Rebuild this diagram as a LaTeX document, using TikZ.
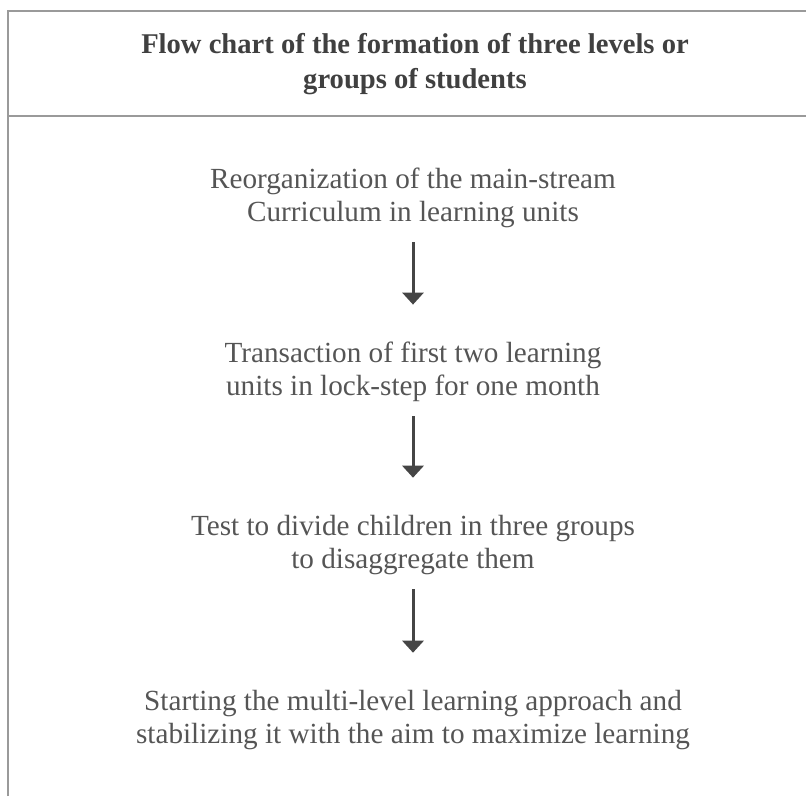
\documentclass[tikz,border=0pt]{standalone}
\usepackage{fontspec}
\setmainfont{Liberation Serif}
\usetikzlibrary{arrows.meta, positioning}
\definecolor{txtgray}{HTML}{555555}
\definecolor{ttlgray}{HTML}{404040}
\definecolor{rulegray}{HTML}{9A9A9A}
\definecolor{arrgray}{HTML}{454545}
\tikzset{
  ttl/.style={font=\bfseries\fontsize{14.3}{17.5}\selectfont, text=ttlgray, align=center, inner sep=0pt},
  stp/.style={font=\fontsize{14.6}{16.6}\selectfont, text=txtgray, align=center, inner sep=0pt},
  frm/.style={draw=rulegray, line width=1pt},
  flw/.style={-{Triangle[length=6pt, width=10.5pt]}, draw=arrgray, line width=1.5pt, shorten <=7pt, shorten >=18.5pt}
}

\begin{document}
\begin{tikzpicture}[x=0.5pt, y=-0.5pt]
		\useasboundingbox (0,0) rectangle (806,796);
		% frame
		\coordinate (tl) at (8,11);
		\coordinate (tr) at (806,11);
		\coordinate (ml) at (8,116);
		\coordinate (mr) at (806,116);
		\coordinate (bl) at (8,796);
		\draw[frm] (bl) -- (tl) -- (tr);
		\draw[frm] (ml) -- (mr);
		\node[ttl] (head) at (415,64) {Flow chart of the formation of three levels or\\ groups of students};
		% steps
		\node[stp] (s1) at (413,198) {Reorganization of the main-stream\\ Curriculum in learning units};
		\node[stp] (s2) at (413,372) {Transaction of first two learning\\ units in lock-step for one month};
		\node[stp] (s3) at (413,545) {Test to divide children in three groups\\ to disaggregate them};
		\node[stp] (s4) at (413,720) {Starting the multi-level learning approach and\\ stabilizing it with the aim to maximize learning};
		\draw[flw] (s1.south) -- (s2.north);
		\draw[flw] (s2.south) -- (s3.north);
		\draw[flw] (s3.south) -- (s4.north);
	\end{tikzpicture}
\end{document}
